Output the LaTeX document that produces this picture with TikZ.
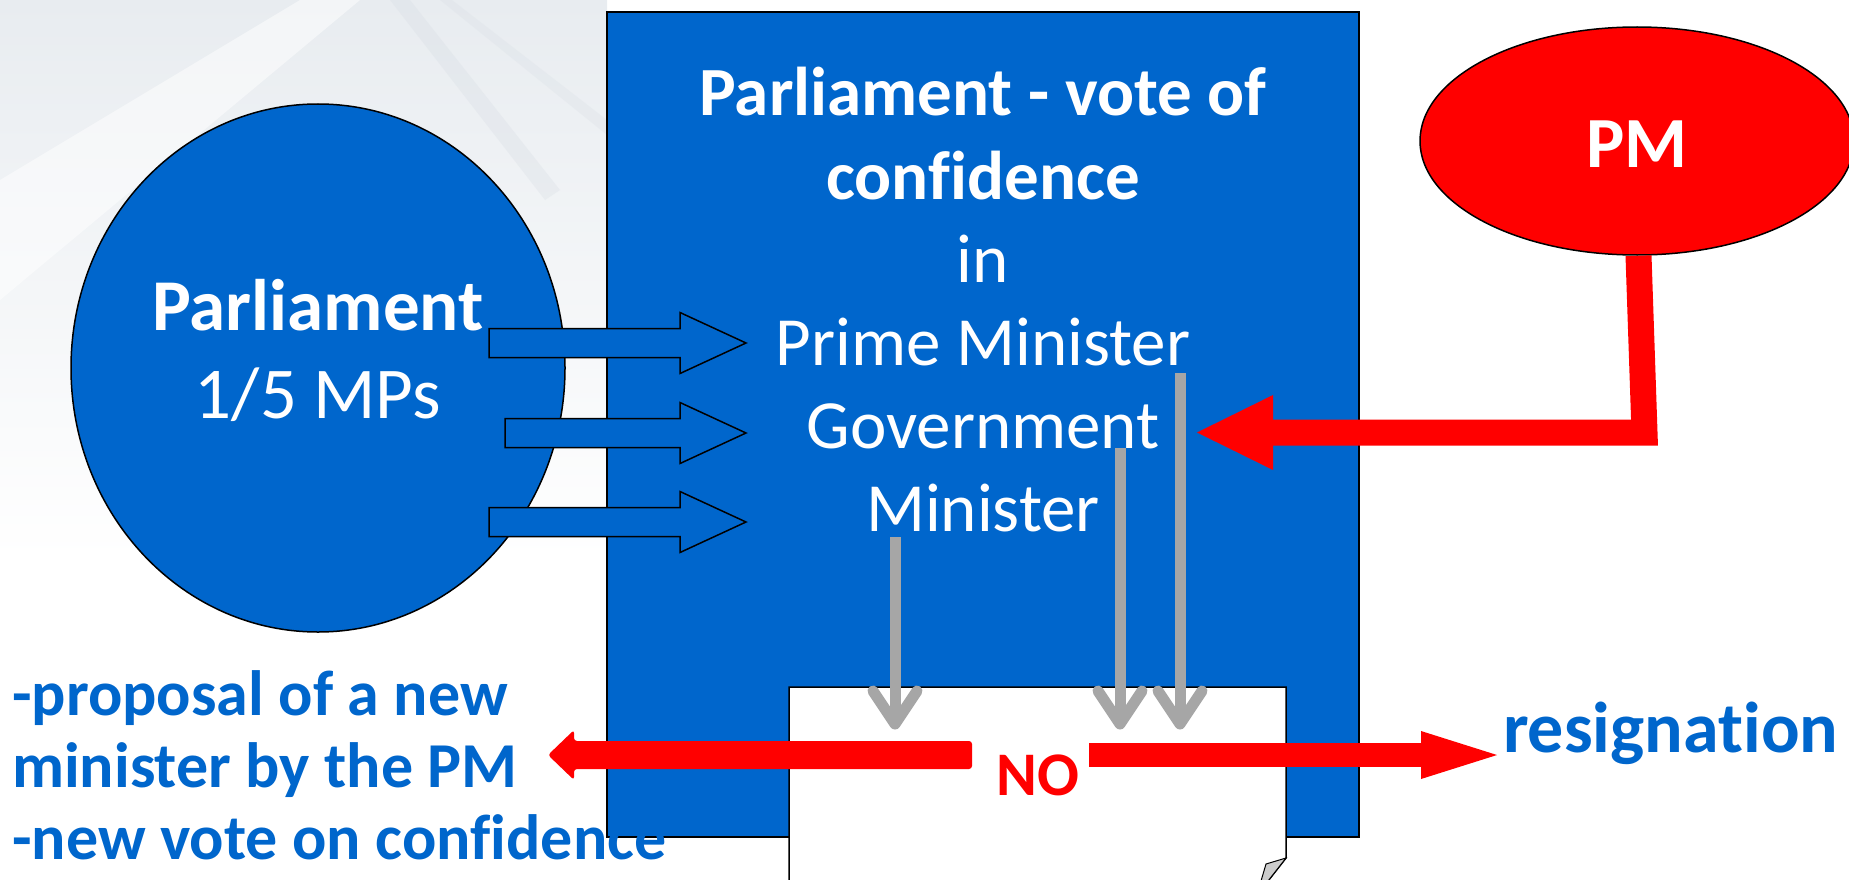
\documentclass[tikz,border=0pt]{standalone}
\usepackage{fontspec}
\setmainfont{Carlito}[Ligatures=NoCommon]
\usetikzlibrary{shapes.geometric,calc}
\definecolor{pblue}{RGB}{0,102,204}
\definecolor{pred}{RGB}{255,0,0}
\definecolor{pgray}{RGB}{166,166,166}
\definecolor{bgA}{RGB}{232,236,240}
\definecolor{bgB}{RGB}{214,220,227}
\newcommand\fsBig{\fontsize{73}{88}\selectfont}
\newcommand\fsMid{\fontsize{69}{83}\selectfont}
\newcommand\fsSide{\fontsize{64}{73}\selectfont}
\newcommand\fsNo{\fontsize{62}{70}\selectfont}
\begin{document}
\begin{tikzpicture}[x=1pt,y=-1pt,
  blueshape/.style={draw=black,line width=1.5pt,fill=pblue},
  whitetxt/.style={text=white,inner sep=0pt,anchor=base},
  bluetxt/.style={text=pblue,inner sep=0pt,font=\fsSide\bfseries},
  grayarr/.style={draw=pgray,line width=11pt,line join=round},
  redbar/.style={draw=pred,line width=26pt,line join=miter},
  blockarrow/.style={blueshape}]
\useasboundingbox (0,0) rectangle (1849,880);
% background tint
\shade[top color=bgA,bottom color=white] (0,0) rectangle (607,560);
\fill[white,opacity=0.5] (0,180) -- (300,0) -- (360,0) -- (0,300) -- cycle;
\fill[bgB,opacity=0.3] (390,0) -- (410,0) -- (560,190) -- (545,200) -- cycle;
\fill[bgB,opacity=0.25] (440,0) -- (452,0) -- (607,120) -- (607,135) -- cycle;
% Parliament ellipse
\node[ellipse,blueshape,minimum width=494pt,minimum height=528pt,inner sep=0pt] (parl) at (318,368) {};
\node[whitetxt,font=\fsBig\bfseries] (parlA) at (318,330) {Parliament};
\node[whitetxt,font=\fsBig] (parlB) at (318,418) {1/5 MPs};
% main box
\node[rectangle,blueshape,minimum width=752pt,minimum height=825pt,inner sep=0pt] (box) at (983,424.5) {};
\node[whitetxt,font=\fsMid\bfseries] (t1) at (983,116) {Parliament - vote of};
\node[whitetxt,font=\fsMid\bfseries] (t2) at (983,199) {confidence};
\node[whitetxt,font=\fsMid] (t3) at (983,282) {in};
\node[whitetxt,font=\fsMid] (t4) at (983,365) {Prime Minister};
\node[whitetxt,font=\fsMid] (t5) at (983,448) {Government};
\node[whitetxt,font=\fsMid] (t6) at (983,531) {Minister};
% block arrows from Parliament
\foreach \xl/\yc in {489/343,505/433,489/522}{
  \draw[blockarrow] (\xl,\yc-14.5) -- (680,\yc-14.5) -- (680,\yc-30.5) -- (746,\yc)
    -- (680,\yc+30.5) -- (680,\yc+14.5) -- (\xl,\yc+14.5) -- cycle;
}
% white document
\draw[black,line width=1.5pt,fill=white] (789,881) -- (789,687) -- (1286,687) -- (1286,858) -- (1268,881);
\draw[black,line width=1pt,fill=gray!40] (1286,858) -- (1266,864) -- (1261,881) -- (1268,881) -- cycle;
% gray arrows
\coordinate (gA1) at (895,537);  \coordinate (gA2) at (895,724);
\coordinate (gB1) at (1120,448); \coordinate (gB2) at (1120,724);
\coordinate (gC1) at (1180,373); \coordinate (gC2) at (1180,724);
\foreach \a/\b in {gA1/gA2,gB1/gB2,gC1/gC2}{
  \draw[grayarr] (\a) -- (\b);
  \draw[grayarr,line cap=round] ($(\b)+(-22,-33)$) -- (\b) -- ($(\b)+(22,-33)$);
}
% PM
\node[ellipse,draw=black,line width=1.5pt,fill=pred,minimum width=434pt,minimum height=228pt,inner sep=0pt] (pm) at (1637,141) {};
\node[whitetxt,font=\fontsize{72}{80}\selectfont\bfseries] (pmt) at (1637,167) {PM};
\coordinate (pmc) at (1644.5,432.5);
\coordinate (pmh) at (1273,432.5);
\draw[redbar] ([xshift=1.5pt]pm.south) -- (pmc) -- (pmh);
\fill[pred] (1273,395) -- (1197,432.5) -- (1273,470) -- cycle;
% NO
\node[text=pred,inner sep=0pt,anchor=base,font=\fsNo\bfseries] (no) at (1038,795) {NO};
\coordinate (nl1) at (972,755); \coordinate (nl2) at (574,755);
\coordinate (nr1) at (1089,755); \coordinate (nr2) at (1421,755);
\fill[pred,rounded corners=3pt] (972,741) -- (972,769) -- (574,769) -- (574,780) -- (548,755) -- (574,730) -- (574,741) -- cycle;
\draw[pred,line width=24pt] (nr1) -- (nr2);
\fill[pred] (1421,731) -- (1497,755) -- (1421,779) -- cycle;
% labels
\node[text=pblue,inner sep=0pt,anchor=base west,font=\fontsize{72}{80}\selectfont\bfseries] (res) at (1503,752) {resignation};
\node[bluetxt,anchor=base west] (s1) at (12,715) {-proposal of a new};
\node[bluetxt,anchor=base west] (s2) at (12,787) {minister by the PM};
\node[bluetxt,anchor=base west] (s3) at (12,859) {-new vote on confidence};
\end{tikzpicture}
\end{document}
